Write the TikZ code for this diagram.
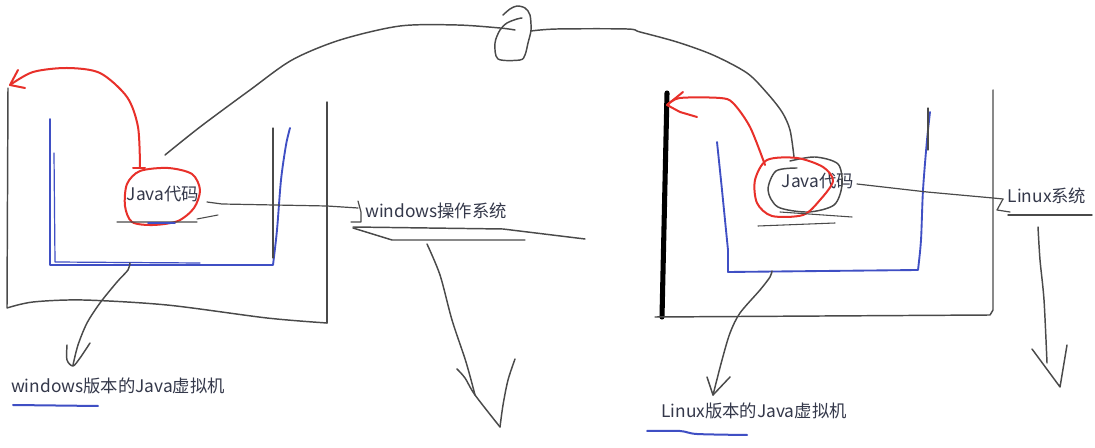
\documentclass[tikz,border=0pt]{standalone}
\usepackage{fontspec}
\setmainfont{Noto Sans CJK SC}
\begin{document}
\begin{tikzpicture}[x=0.75pt,y=-0.75pt,
  pen/.style={draw=penGrey, line width=1.1pt, line cap=round, line join=round},
  redpen/.style={draw=penRed, line width=1.5pt, line cap=round, line join=round},
  bluepen/.style={draw=penBlue, line width=1.4pt, line cap=round, line join=round},
  thickpen/.style={draw=black, line width=3.8pt, line cap=round},
  lbl/.style={font=\fontsize{13}{15}\selectfont, text=textCol, inner sep=0pt, anchor=base}]
\definecolor{penGrey}{HTML}{4A4A4A}
\definecolor{penRed}{HTML}{E8302A}
\definecolor{penBlue}{HTML}{3F4FC4}
\definecolor{textCol}{HTML}{34384A}
\fill[white] (0,0) rectangle (1095,448);
\useasboundingbox (0,0) rectangle (1095,448);

% ---------------- left machine ----------------
% outer box
\draw[pen] (8,88) -- (7,308) plot[smooth] coordinates {(7,308) (33,302) (83,300) (167,305) (267,318) (327,323)};
\draw[pen] (327,102) -- (327,323);
% JVM box (blue)
\draw[bluepen] (50,119) -- (50,265) -- (273,265) plot[smooth] coordinates {(273,265) (277,230) (281,180) (286,145) (290,128)};
\draw[bluepen, line width=0.9pt] (54,153) -- (55,262) -- (200,263);
\draw[pen, line width=0.8pt] (273,128) -- (273,258);
% java code
\node[lbl] (jl) at (163,201) {Java代码};
\draw[redpen] plot[smooth cycle] coordinates {(140,171) (168,168) (192,174) (200,190) (194,208) (178,221) (153,225) (132,222) (125,206) (127,184)};
\draw[pen, line width=0.8pt] (117,222) -- (197,222) (197,219) -- (218,215);
\draw[bluepen, line width=1.2pt] (148,223) -- (175,223);
% red arrow
\draw[redpen] (133,168) -- (145,168);
\draw[redpen] plot[smooth] coordinates {(140,168) (138,127) (127,97) (100,73) (67,68) (33,72) (10,85)};
\draw[redpen] (18,70) -- (10,85) -- (25,88);
% connector to windows
\draw[pen, line width=0.9pt] (207,202) -- (222,204) -- (327,206) -- (358,208);
\draw[pen, line width=0.9pt] (358,201) -- (361,212) -- (361,222) -- (351,222);
\node[lbl] (wos) at (436,218) {windows操作系统};
\draw[pen] (353,227) -- (503,229) -- (585,239);
\draw[pen] (353,228) -- (392,240) -- (525,240);
% arrow down from windows OS
\draw[pen] plot[smooth] coordinates {(427,244) (440,275) (452,320) (466,362) (475,395)};
\draw[pen] plot[smooth] coordinates {(457,369) (465,378) (475,395) (500,427)};
\draw[pen] plot[smooth] coordinates {(515,359) (508,380) (503,405) (500,427)};
% arrow down to JVM label
\draw[pen] plot[smooth] coordinates {(130,263) (128,270) (117,282) (100,303) (87,323) (78,345) (73,365)};
\draw[pen] plot[smooth] coordinates {(67,345) (67,360) (73,366) (80,358) (90,343)};
\node[lbl] (wjvm) at (118,393) {windows版本的Java虚拟机};
\draw[bluepen, line width=1.5pt] (13,405) -- (98,406);

% ---------------- big arc ----------------
\draw[pen] plot[smooth] coordinates {(165,155) (200,127) (250,90) (292,60) (340,40) (400,26) (457,25) (500,28) (515,30)};
\draw[pen] plot[smooth] coordinates {(503,15) (510,9) (517,6) (525,8) (530,15) (531,30) (528,43) (525,55) (520,60) (498,59) (495,43) (500,30) (507,23) (517,19) (522,18)};
\draw[pen] plot[smooth] coordinates {(531,31) (557,29) (627,29) (640,32) (677,42) (713,55) (747,73) (767,93) (782,112) (790,130) (794,157)};

% ---------------- right machine ----------------
\draw[thickpen] (667,93) -- (662,317);
\draw[pen] (655,317) -- (990,315) -- (993,310) -- (993,90);
% JVM box (blue)
\draw[bluepen] (717,142) -- (722,190) -- (728,250) -- (728,272) -- (918,270) plot[smooth] coordinates {(918,270) (921,240) (923,190) (927,140) (930,112)};
\draw[pen, line width=0.8pt] (928,108) -- (928,150);
% java code
\node[lbl] (jr) at (818,188) {Java代码};
\draw[pen] plot[smooth] coordinates {(797,168) (776,171) (768,190) (778,207) (808,212) (834,205) (842,185) (838,164) (815,157) (790,161)};
\draw[redpen] plot[smooth cycle] coordinates {(767,160) (797,158) (823,167) (833,181) (820,200) (803,215) (772,216) (757,203) (755,180)};
\draw[pen, line width=0.8pt] (780,212) -- (852,217) (758,226) -- (835,223);
% red arrow
\draw[redpen] plot[smooth] coordinates {(765,165) (750,127) (733,103) (720,98) (680,98) (667,105)};
\draw[redpen] (683,92) -- (667,105) -- (680,112) -- (697,117);
% connector to Linux
\draw[pen, line width=0.9pt] (857,184) -- (927,192) -- (993,198) -- (1003,199);
\draw[pen, line width=0.9pt] (1003,199) -- (997,210) -- (1010,212);
\node[lbl] (los) at (1047,203) {Linux系统};
\draw[pen] (1008,215) -- (1092,215);
% arrow down from Linux OS
\draw[pen] plot[smooth] coordinates {(1038,227) (1040,260) (1044,300) (1047,363)};
\draw[pen] (1032,349) -- (1060,387) -- (1067,345);
% arrow down to JVM label
\draw[pen] plot[smooth] coordinates {(772,271) (770,277) (760,290) (740,313) (730,333) (722,360) (713,395)};
\draw[pen] (707,377) -- (713,395) -- (730,377);
\node[lbl] (ljvm) at (754,418) {Linux版本的Java虚拟机};
\draw[bluepen, line width=1.5pt] plot[smooth] coordinates {(647,431) (680,431) (697,434) (747,435)};
\end{tikzpicture}
\end{document}
